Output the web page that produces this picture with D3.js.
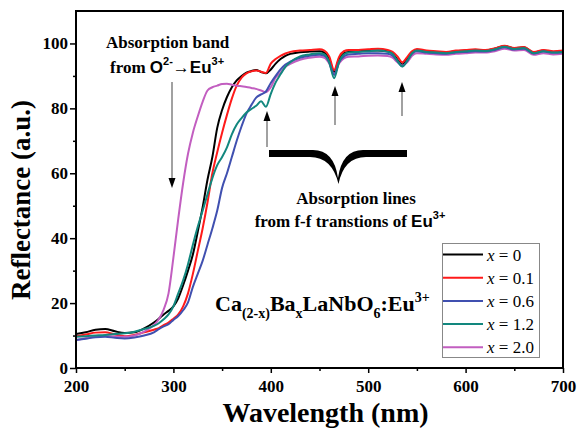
<!DOCTYPE html>
<html>
<head>
<meta charset="utf-8">
<script src="https://cdn.jsdelivr.net/npm/d3@7"></script>
<style>
  html, body { margin: 0; padding: 0; background: #fff; }
  svg { display: block; }
  text { font-family: "Liberation Serif", "Times New Roman", serif; }
</style>
</head>
<body>
<svg id="chart" width="579" height="429"></svg>
<script>
// ---------- DATA ----------
const wavelengths = [200,210,220,230,240,250,260,270,280,
  285,290,295,300,305,310,315,320,325,330,335,340,345,350,355,360,365,370,375,380,385,390,395,400,405,410,415,420,
  430,440,450,455,460,465,470,475,480,
  490,500,510,520,525,530,535,540,545,550,
  560,570,580,590,600,610,620,630,640,650,660,670,680,690,700];

const seriesNames = ["x = 0", "x = 0.1", "x = 0.6", "x = 1.2", "x = 2.0"];

const refl_x0 = [10.5,11.0,11.8,12.0,11.3,10.8,11.0,12.2,14.0,
  15.2,16.5,17.6,19.0,21.5,25.5,30,35,42,49.5,58,65,74,79.5,83.5,86.5,88.6,90,91,91.5,91.8,91.2,90.8,92,93.8,95.2,96.2,96.8,
  97.3,97.5,97.6,97.2,95.2,91.2,95.2,97.0,97.4,
  97.6,97.8,97.8,97.6,97.0,95.0,93.5,95.2,97.2,98,
  97.6,97.4,97.2,97.6,97.8,98,97.8,98.4,99.2,98.5,98.8,97.2,97.8,97.4,97.6];

const refl_x01 = [9.8,10.3,10.9,11.0,10.3,9.8,10.2,11.0,11.8,
  12.3,13.2,14,15.2,16.5,19,23,29,36,43,51,60,66.5,72.5,78,83,87,89.5,90.8,91.4,91.7,91.3,90.9,93.8,95.2,96.2,96.9,97.4,
  97.8,98,98.2,97.8,96.0,91.8,95.8,97.6,98,
  98,98.2,98.4,98.0,97.4,96.0,94.2,95.8,97.6,98.3,
  97.8,97.6,97.4,97.8,98,98.2,98,98.5,99.3,98.6,98.9,97.4,98,97.6,97.8];

const refl_x06 = [8.6,9.0,9.5,9.6,9.3,9.1,9.4,10.0,11.0,
  12,12.8,13.5,14.8,16,17.8,20.2,25,29,33,38,43,48.5,55.5,60,65,70,74.5,78.4,81,83.3,84.3,85.2,87.8,90,92,93.5,94.4,
  95.6,96.2,96.5,96.2,94.2,90.3,94.2,96.0,96.6,
  96.8,97,97,96.8,96.2,94.6,93,94.6,96.8,97.6,
  97.2,97,96.8,97.2,97.4,97.6,97.5,98,98.8,98.1,98.4,96.9,97.5,97.1,97.3];

const refl_x12 = [9.6,9.8,10.0,10.2,10.5,10.7,11.2,12.0,13.0,
  13.8,15,16.5,19,23,27,32,38,43.5,48.5,53.5,58.5,62.5,65,68,72,75,77,78.7,79.8,80.8,82.2,80.5,84.5,88,90.5,92.8,94.2,
  96,96.6,97,96.6,94.2,89.3,94.2,96.6,97.2,
  97.4,97.6,97.8,97.4,96.8,94.6,92.9,94.6,97.0,97.8,
  97.4,97.2,97.0,97.4,97.6,97.8,97.7,98.2,99.0,98.3,98.6,97.0,97.6,97.2,97.4];

const refl_x20 = [8.6,9.2,9.7,9.9,9.7,9.6,10.0,11.2,13.2,
  15,18,23,34,46,57,66,72.5,77.5,82,85.5,86.5,87,87.5,87.6,87.3,87,86.8,86.6,86.3,86,85.5,85,86.5,89.5,91,92.8,93.7,
  95,95.6,95.9,95.6,93.8,90.5,93.8,95.4,95.9,
  96,96.2,96.3,96.1,95.6,94.2,93.2,94.2,96.2,97,
  96.8,96.6,96.5,96.8,97,97.2,97.2,97.6,98.4,97.8,98,96.5,97,96.6,96.8];

const xTicks = [200,300,400,500,600,700];
const xMinorTicks = [250,350,450,550,650];
const yTicks = [0,20,40,60,80,100];
const yMinorTicks = [10,30,50,70,90];

const colors = ["#000000", "#ff1a1a", "#4050b0", "#12877e", "#c25ec0"];
const seriesValues = [refl_x0, refl_x01, refl_x06, refl_x12, refl_x20];

// ---------- LAYOUT ----------
const svg = d3.select("#chart");
const L = 76, R = 563, T = 11, B = 368;
const x = d3.scaleLinear().domain([200, 700]).range([L, R]);
const y = d3.scaleLinear().domain([0, 110]).range([B, T]);

// axes
const gx = svg.append("g").attr("transform", `translate(0,${B})`)
  .call(d3.axisBottom(x).tickValues(xTicks).tickSize(5).tickPadding(7).tickFormat(d3.format("d")));
const gxm = svg.append("g").attr("transform", `translate(0,${B})`)
  .call(d3.axisBottom(x).tickValues(xMinorTicks).tickSize(3).tickFormat(""));
const gy = svg.append("g").attr("transform", `translate(${L},0)`)
  .call(d3.axisLeft(y).tickValues(yTicks).tickSize(6).tickPadding(2).tickFormat(d3.format("d")));
const gym = svg.append("g").attr("transform", `translate(${L},0)`)
  .call(d3.axisLeft(y).tickValues(yMinorTicks).tickSize(3).tickFormat(""));
[gx, gxm, gy, gym].forEach(g => {
  g.select(".domain").remove();
  g.selectAll(".tick line").attr("stroke", "#000").attr("stroke-width", 1.5);
  g.selectAll(".tick text").attr("font-family", "Liberation Serif").attr("font-weight", "bold")
    .attr("font-size", 17).attr("fill", "#000");
});

// clip
svg.append("clipPath").attr("id", "clip").append("rect")
  .attr("x", L).attr("y", T).attr("width", R - L).attr("height", B - T);

// lines
const line = d3.line().x((d, i) => x(wavelengths[i])).y(d => y(d)).curve(d3.curveMonotoneX);
const drawOrder = [0, 1, 4, 2, 3];
drawOrder.forEach(k => {
  svg.append("path").datum(seriesValues[k])
    .attr("clip-path", "url(#clip)")
    .attr("fill", "none").attr("stroke", colors[k]).attr("stroke-width", 2)
    .attr("stroke-linejoin", "round")
    .attr("d", line);
});

// frame
svg.append("rect").attr("x", L).attr("y", T).attr("width", R - L).attr("height", B - T)
  .attr("fill", "none").attr("stroke", "#000").attr("stroke-width", 2);

// axis titles
svg.append("text").attr("x", (L + R) / 2 + 6).attr("y", 422).attr("text-anchor", "middle")
  .attr("font-weight", "bold").attr("font-size", 28).text("Wavelength (nm)");
svg.append("text").attr("transform", "translate(30,200) rotate(-90)").attr("text-anchor", "middle")
  .attr("font-weight", "bold").attr("font-size", 27).text("Reflectance (a.u.)");

// legend
const lg = svg.append("g");
lg.append("rect").attr("x", 442.5).attr("y", 243.5).attr("width", 97).attr("height", 114)
  .attr("fill", "#fff").attr("stroke", "#888").attr("stroke-width", 1);
const legendVals = ["0", "0.1", "0.6", "1.2", "2.0"];
seriesNames.forEach((name, i) => {
  const cy = 254.5 + i * 23.2;
  lg.append("line").attr("x1", 443).attr("x2", 483).attr("y1", cy).attr("y2", cy)
    .attr("stroke", colors[i]).attr("stroke-width", 2);
  const t = lg.append("text").attr("x", 487).attr("y", cy + 6).attr("font-size", 17);
  t.append("tspan").attr("font-style", "italic").text("x");
  t.append("tspan").text(" = " + legendVals[i]);
});

// formula
const f = svg.append("text").attr("x", 215).attr("y", 311).attr("font-weight", "bold").attr("font-size", 22);
f.append("tspan").text("Ca");
f.append("tspan").attr("font-size", 14).attr("dy", 7).text("(2-x)");
f.append("tspan").attr("dy", -7).text("Ba");
f.append("tspan").attr("font-size", 14).attr("dy", 7).text("x");
f.append("tspan").attr("dy", -7).text("LaNbO");
f.append("tspan").attr("font-size", 14).attr("dy", 7).text("6");
f.append("tspan").attr("dy", -7).text(":Eu");
f.append("tspan").attr("font-size", 14).attr("dy", -9).text("3+");

// annotation: absorption band
svg.append("text").attr("x", 106).attr("y", 48).attr("font-weight", "bold").attr("font-size", 17)
  .text("Absorption band");
const a2 = svg.append("text").attr("x", 110).attr("y", 73).attr("font-weight", "bold").attr("font-size", 17);
a2.append("tspan").text("from ");
a2.append("tspan").attr("font-family", "Liberation Sans").text("O");
a2.append("tspan").attr("font-family", "Liberation Sans").attr("font-size", 11).attr("dy", -8).text("2-");
a2.append("tspan").attr("font-family", "Liberation Sans").attr("font-weight", "normal").attr("dy", 8).text("\u2192");
a2.append("tspan").attr("font-family", "Liberation Sans").text("Eu");
a2.append("tspan").attr("font-family", "Liberation Sans").attr("font-size", 11).attr("dy", -8).text("3+");

// annotation: absorption lines
svg.append("text").attr("x", 356).attr("y", 204).attr("text-anchor", "middle")
  .attr("font-weight", "bold").attr("font-size", 17).text("Absorption lines");
const a4 = svg.append("text").attr("x", 350).attr("y", 227).attr("text-anchor", "middle")
  .attr("font-weight", "bold").attr("font-size", 17);
a4.append("tspan").text("from f-f transtions of ");
a4.append("tspan").attr("font-family", "Liberation Sans").text("Eu");
a4.append("tspan").attr("font-family", "Liberation Sans").attr("font-size", 11).attr("dy", -8).text("3+");

// arrows
function arrow(xp, y1, y2) {
  const dir = y2 > y1 ? 1 : -1;
  svg.append("line").attr("x1", xp).attr("x2", xp).attr("y1", y1).attr("y2", y2 - dir * 8)
    .attr("stroke", "#8a8a8a").attr("stroke-width", 1.6);
  svg.append("path")
    .attr("d", `M${xp},${y2} L${xp - 3.5},${y2 - dir * 10} L${xp + 3.5},${y2 - dir * 10} Z`)
    .attr("fill", "#000");
}
arrow(172, 82, 188);
arrow(267, 147, 111);
arrow(335, 125, 86);
arrow(402, 116, 82);

// brace
svg.append("path")
  .attr("d", "M269,150 H313 Q334,150 338,178 Q342,150 363,150 H407 V157 H366 Q344,157 338.5,184 Q332,157 310,157 H269 Z")
  .attr("fill", "#000");
</script>
</body>
</html>
